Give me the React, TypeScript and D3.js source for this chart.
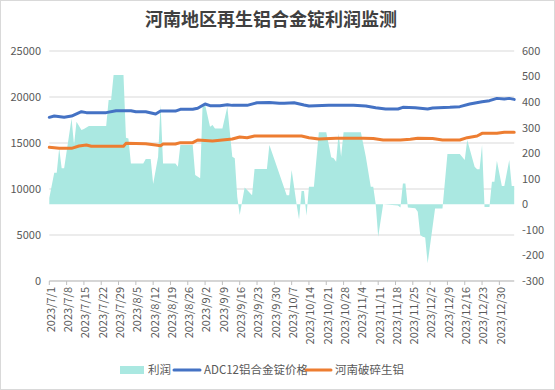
import React from "react";
import * as d3 from "d3";

const W = 555;
const H = 390;

const title = "河南地区再生铝合金锭利润监测";
const seriesNames = ["利润", "ADC12铝合金锭价格", "河南破碎生铝"];

const leftTicks = [0, 5000, 10000, 15000, 20000, 25000];
const rightTicks = [-300, -200, -100, 0, 100, 200, 300, 400, 500, 600];

const profitDates = [
  "2023-07-01","2023-07-03","2023-07-04","2023-07-05","2023-07-06","2023-07-07","2023-07-10","2023-07-11",
  "2023-07-12","2023-07-14","2023-07-15","2023-07-17","2023-07-24","2023-07-25","2023-07-26","2023-07-27",
  "2023-07-31","2023-08-01","2023-08-02","2023-08-03","2023-08-08","2023-08-09","2023-08-11","2023-08-12",
  "2023-08-14","2023-08-15","2023-08-16","2023-08-21","2023-08-22","2023-08-23","2023-08-28","2023-08-29",
  "2023-08-31","2023-09-01","2023-09-02","2023-09-04","2023-09-05","2023-09-06","2023-09-09","2023-09-11",
  "2023-09-13","2023-09-14","2023-09-15","2023-09-16","2023-09-18","2023-09-19","2023-09-21","2023-09-22",
  "2023-09-27","2023-09-28","2023-09-30","2023-10-05","2023-10-06","2023-10-07","2023-10-09","2023-10-10",
  "2023-10-11","2023-10-12","2023-10-13","2023-10-14","2023-10-16","2023-10-18","2023-10-21","2023-10-23",
  "2023-10-24","2023-10-25","2023-10-26","2023-10-27","2023-10-28","2023-11-04","2023-11-06","2023-11-08",
  "2023-11-09","2023-11-10","2023-11-11","2023-11-13","2023-11-19","2023-11-20","2023-11-21","2023-11-22",
  "2023-11-23","2023-11-26","2023-11-27","2023-11-28","2023-11-29","2023-11-30","2023-12-01","2023-12-04",
  "2023-12-07","2023-12-09","2023-12-14","2023-12-16","2023-12-17","2023-12-20","2023-12-21","2023-12-22",
  "2023-12-23","2023-12-24","2023-12-26","2023-12-27","2023-12-28","2023-12-29","2023-12-31","2024-01-01",
  "2024-01-03","2024-01-04","2024-01-05"
];
const profitValues = [
  25, 124, 124, 219, 141, 141, 336, 232,
  323, 291, 295, 307, 307, 408, 408, 506,
  506, 261, 258, 160, 160, 177, 177, 80,
  186, 390, 160, 160, 147, 232, 232, 115,
  102, 393, 390, 304, 310, 297, 297, 382,
  186, 180, 30, -42, 66, 56, 36, 138,
  138, 232, 176, 36, 36, 134, 0, -59,
  52, 52, -45, 69, 69, 282, 282, 184,
  180, 167, 278, 186, 282, 282, 186, 69,
  69, 0, -127, 0, -5, -12, 82, 82,
  -12, -15, -29, -120, -127, -130, -231, -16,
  -16, 197, 197, 173, 252, 147, 137, 137,
  232, -10, -10, 88, 88, 171, 72, 72,
  173, 72, 72
];

const adcDates = [
  "2023-07-01","2023-07-03","2023-07-07","2023-07-10","2023-07-14","2023-07-16","2023-07-24","2023-07-28",
  "2023-08-03","2023-08-05","2023-08-09","2023-08-13","2023-08-15","2023-08-21","2023-08-23","2023-08-28",
  "2023-08-30","2023-09-02","2023-09-04","2023-09-08","2023-09-11","2023-09-13","2023-09-19","2023-09-23",
  "2023-09-28","2023-10-02","2023-10-04","2023-10-08","2023-10-12","2023-10-14","2023-10-22","2023-11-01",
  "2023-11-06","2023-11-10","2023-11-14","2023-11-19","2023-11-21","2023-11-26","2023-12-01","2023-12-03",
  "2023-12-10","2023-12-14","2023-12-18","2023-12-23","2023-12-26","2023-12-29","2024-01-01","2024-01-03",
  "2024-01-05"
];
const adcValues = [
  17790, 17930, 17790, 17930, 18400, 18300, 18300, 18510,
  18510, 18400, 18400, 18150, 18470, 18470, 18660, 18660,
  18770, 19240, 19060, 19060, 19160, 19090, 19090, 19380,
  19400, 19310, 19310, 19380, 19130, 19020, 19090, 19090,
  19020, 18840, 18700, 18700, 18880, 18840, 18700, 18800,
  18880, 18950, 19240, 19490, 19600, 19850, 19780, 19850,
  19740
];

const scrapDates = [
  "2023-07-01","2023-07-05","2023-07-10","2023-07-13","2023-07-16","2023-07-18","2023-07-31","2023-08-01",
  "2023-08-09","2023-08-13","2023-08-15","2023-08-16","2023-08-21","2023-08-23","2023-08-28","2023-08-30",
  "2023-09-05","2023-09-13","2023-09-16","2023-09-19","2023-09-22","2023-10-11","2023-10-14","2023-10-18",
  "2023-10-25","2023-11-05","2023-11-09","2023-11-13","2023-11-20","2023-11-24","2023-11-27","2023-12-03",
  "2023-12-07","2023-12-14","2023-12-17","2023-12-21","2023-12-23","2023-12-29","2024-01-01","2024-01-05"
];
const scrapValues = [
  14530, 14420, 14420, 14670, 14780, 14640, 14640, 14960,
  14930, 14780, 14710, 14890, 14890, 15040, 15040, 15330,
  15220, 15430, 15650, 15580, 15760, 15760, 15580, 15430,
  15510, 15510, 15500, 15330, 15330, 15400, 15510, 15480,
  15330, 15330, 15580, 15760, 16050, 16050, 16160, 16160
];

const parse = (s: string) => {
  const [y, m, d] = s.split("-").map(Number);
  return new Date(y, m - 1, d);
};

const FONT = "'Noto Sans CJK SC', 'Noto Sans', sans-serif";
const TXT = "#595959";
const GRID = "#d9d9d9";
const AREA_C = "#aae8e1";
const BLUE = "#4472c4";
const ORANGE = "#ed7d31";

export default function App() {
  const plotL = 49.3, plotR = 514.2, plotT = 51, plotB = 281;
  const x = d3.scaleTime().domain([new Date(2023, 6, 1), new Date(2024, 0, 5)]).range([plotL, plotR]);
  const yL = d3.scaleLinear().domain([0, 25000]).range([plotB, plotT]);
  const yR = d3.scaleLinear().domain([-300, 600]).range([plotB, plotT]);

  const profit = profitDates.map((d, i) => ({ d: parse(d), v: profitValues[i] }));
  const adc = adcDates.map((d, i) => ({ d: parse(d), v: adcValues[i] }));
  const scrap = scrapDates.map((d, i) => ({ d: parse(d), v: scrapValues[i] }));

  const area = d3.area<{ d: Date; v: number }>().x(p => x(p.d)).y0(yR(0)).y1(p => yR(p.v));
  const lineL = d3.line<{ d: Date; v: number }>().x(p => x(p.d)).y(p => yL(p.v));

  const weekTicks = d3.timeDay.range(new Date(2023, 6, 1), new Date(2024, 0, 1), 7);
  const fmt = (d: Date) => `${d.getFullYear()}/${d.getMonth() + 1}/${d.getDate()}`;

  return (
    <div style={{ position: "absolute", left: 0, top: 0 }}>
      <svg width={W} height={H} style={{ display: "block", fontFamily: FONT }}>
        <rect x={0} y={0} width={W} height={H} fill="#fff" />
        <rect x={0.5} y={0.5} width={W - 1} height={H - 1} fill="none" stroke="#d9d9d9" />
        <text x={271} y={26} textAnchor="middle" fontSize={18} fontWeight={700} fill="#404040">{title}</text>

        {leftTicks.map(t => (
          <line key={"g" + t} x1={plotL} x2={plotR} y1={yL(t)} y2={yL(t)} stroke={GRID} strokeWidth={1} />
        ))}
        {leftTicks.map(t => (
          <text key={"l" + t} x={41} y={yL(t)} dy="0.35em" textAnchor="end" fontSize={11} fill={TXT}>{t}</text>
        ))}
        {rightTicks.map(t => (
          <text key={"r" + t} x={522} y={yR(t)} dy="0.35em" textAnchor="start" fontSize={11} fill={TXT}>{t}</text>
        ))}

        <path d={area(profit) || ""} fill={AREA_C} />
        <path d={lineL(adc) || ""} fill="none" stroke={BLUE} strokeWidth={3} strokeLinejoin="round" strokeLinecap="round" />
        <path d={lineL(scrap) || ""} fill="none" stroke={ORANGE} strokeWidth={3} strokeLinejoin="round" strokeLinecap="round" />

        <line x1={plotL} x2={plotR} y1={plotB} y2={plotB} stroke="#bfbfbf" strokeWidth={1} />
        {weekTicks.map((d, i) => (
          <g key={"x" + i}>
            <line x1={x(d)} x2={x(d)} y1={plotB} y2={plotB + 4} stroke="#bfbfbf" />
            <text
              transform={`translate(${x(d) + 1.5},${plotB + 6}) rotate(-90)`}
              textAnchor="end"
              dy="0.35em"
              fontSize={11}
              fill={TXT}
            >
              {fmt(d)}
            </text>
          </g>
        ))}

        <g fontSize={11.5} fill={TXT}>
          <rect x={120} y={366} width={24} height={8} fill={AREA_C} />
          <text x={148} y={370} dy="0.35em">{seriesNames[0]}</text>
          <line x1={174} x2={200} y1={370} y2={370} stroke={BLUE} strokeWidth={3} strokeLinecap="round" />
          <text x={204} y={370} dy="0.35em">{seriesNames[1]}</text>
          <line x1={306} x2={331} y1={370} y2={370} stroke={ORANGE} strokeWidth={3} strokeLinecap="round" />
          <text x={335} y={370} dy="0.35em">{seriesNames[2]}</text>
        </g>
      </svg>
    </div>
  );
}
